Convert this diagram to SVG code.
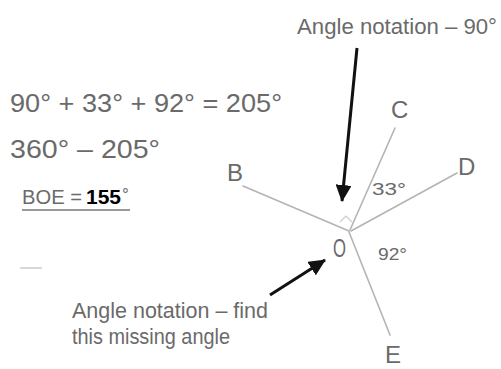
<svg xmlns="http://www.w3.org/2000/svg" width="501" height="369" viewBox="0 0 501 369">
<style>
.t{font-family:"Liberation Sans",Arial,sans-serif;fill:#6a6a6a;}
.ray{stroke:#b4b4b4;stroke-width:1.6;fill:none;stroke-linecap:round;}
.arr{stroke:#111;stroke-width:3;fill:none;}
</style>
<defs>
<marker id="ah" markerUnits="userSpaceOnUse" markerWidth="18" markerHeight="16" refX="16" refY="8" orient="auto">
<path d="M0,0 L17,8 L0,16 Z" fill="#111"/>
</marker>
</defs>
<rect width="501" height="369" fill="#fff"/>
<g id="working">
<text class="t" x="10" y="112" font-size="26" textLength="272" lengthAdjust="spacingAndGlyphs">90° + 33° + 92° = 205°</text>
<text class="t" x="10" y="158" font-size="26" textLength="150" lengthAdjust="spacingAndGlyphs">360° – 205°</text>
<text class="t" x="22" y="204" font-size="20" textLength="60" lengthAdjust="spacingAndGlyphs">BOE =</text>
<text x="86" y="204" font-size="21" font-weight="bold" fill="#000" font-family="Liberation Sans, Arial, sans-serif" textLength="35" lengthAdjust="spacingAndGlyphs">155</text>
<text class="t" x="122" y="200" font-size="17">°</text>
<line x1="22" y1="210" x2="130" y2="210" stroke="#777" stroke-width="1.5"/>
<line x1="20" y1="268" x2="42" y2="268" stroke="#ccc" stroke-width="1.5"/>
</g>
<g id="connectors">
<line class="ray" x1="243" y1="186" x2="349" y2="231"/>
<line class="ray" x1="395" y1="128" x2="350" y2="230"/>
<line class="ray" x1="457" y1="173" x2="351" y2="231"/>
<line class="ray" x1="349" y1="232" x2="390" y2="335"/>
<path d="M340,222 L346,216 L352,222" stroke="#ccc" stroke-width="1.2" fill="none"/>
<line class="arr" x1="357" y1="48" x2="342" y2="201" marker-end="url(#ah)"/>
<line class="arr" x1="270" y1="295" x2="325" y2="260" marker-end="url(#ah)"/>
</g>
<g id="label-top"><text class="t" x="297" y="34" font-size="22" textLength="200" lengthAdjust="spacingAndGlyphs">Angle notation – 90°</text></g>
<g id="label-bottom">
<text class="t" x="72" y="318" font-size="22" textLength="196" lengthAdjust="spacingAndGlyphs">Angle notation – find</text>
<text class="t" x="72" y="344" font-size="22" textLength="158" lengthAdjust="spacingAndGlyphs">this missing angle</text>
</g>
<g id="B"><text class="t" x="227" y="181" font-size="24">B</text></g>
<g id="C"><text class="t" x="391" y="118" font-size="24">C</text></g>
<g id="D"><text class="t" x="458" y="175" font-size="24">D</text></g>
<g id="E"><text class="t" x="385" y="363" font-size="24">E</text></g>
<g id="O"><text class="t" x="333" y="257" font-size="26" textLength="13" lengthAdjust="spacingAndGlyphs">O</text></g>
<g id="a33"><text class="t" x="372" y="195" font-size="17" textLength="34" lengthAdjust="spacingAndGlyphs">33°</text></g>
<g id="a92"><text class="t" x="378" y="260" font-size="17" textLength="29" lengthAdjust="spacingAndGlyphs">92°</text></g>
</svg>
